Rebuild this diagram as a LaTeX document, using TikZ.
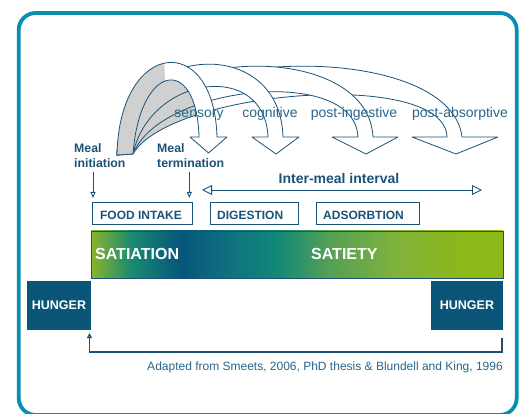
\documentclass[tikz,border=0pt]{standalone}
\usepackage{fontspec}
\setmainfont{Liberation Sans}
\usetikzlibrary{arrows.meta}

\definecolor{framec}{RGB}{8,142,176}
\definecolor{inkdark}{RGB}{27,82,118}
\definecolor{inklight}{RGB}{40,102,138}
\definecolor{hungerblue}{RGB}{10,85,120}
\definecolor{ribbon}{RGB}{208,208,208}
\definecolor{ga}{RGB}{138,181,42}
\definecolor{gb}{RGB}{26,138,112}
\definecolor{gc}{RGB}{6,86,122}
\definecolor{gd}{RGB}{14,108,128}
\definecolor{ge}{RGB}{17,135,122}
\definecolor{gf}{RGB}{85,160,85}
\definecolor{gg}{RGB}{130,180,58}
\definecolor{gh}{RGB}{140,184,26}

\pgfdeclarehorizontalshading{barshade}{100bp}{color(0bp)=(ga); color(25bp)=(ga); color(29.85bp)=(gb); color(35.9bp)=(gc); color(40.6bp)=(gd); color(47.3bp)=(ge); color(54bp)=(gf); color(62.5bp)=(gg); color(69.8bp)=(gh); color(75bp)=(gh); color(100bp)=(gh)}

\newcommand{\ribbonband}[2]{%
  \fill[white] #1;
  \begin{scope}
    \clip #1;
    \fill[ribbon] #2;
  \end{scope}
  \path[ribbonline] #1;
}

\tikzset{
  ribbonline/.style={draw=inkdark, line width=0.8pt, line join=round},
  arclabel/.style={inner sep=0pt, text=inklight, font=\fontsize{14}{16}\selectfont},
  meallabel/.style={inner sep=0pt, align=left, text=inkdark, font=\bfseries\fontsize{12.3}{14.5}\selectfont},
  phasebox/.style={draw=inkdark, line width=1pt, minimum height=22pt, inner sep=0pt},
  phasetext/.style={inner sep=0pt, text=inkdark, font=\bfseries\fontsize{12}{14}\selectfont},
  intertext/.style={inner sep=0pt, text=inkdark, font=\bfseries\fontsize{14}{16}\selectfont},
  dblarrow/.style={draw=inkdark, line width=0.9pt, {Triangle[open,length=10pt,width=10pt]}-{Triangle[open,length=10pt,width=10pt]}},
  smallarr/.style={draw=inkdark, line width=0.9pt, -{Triangle[open,length=6pt,width=5pt]}},
  barstyle/.style={draw=inkdark, line width=0.8pt, shade, shading=barshade, minimum width=412pt, minimum height=47pt, inner sep=0pt},
  bartext/.style={inner sep=0pt, text=white, font=\bfseries\fontsize{16}{18}\selectfont},
  hunger/.style={fill=hungerblue, text=white, font=\bfseries\fontsize{12.5}{14}\selectfont, minimum height=49pt, inner sep=0pt},
  loopline/.style={draw=inkdark, line width=1.3pt, -{Triangle[open,length=5pt,width=5pt]}},
  captiontext/.style={inner sep=0pt, text=inklight, font=\fontsize{12}{14}\selectfont},
}

\begin{document}
\begin{tikzpicture}[x=1pt,y=-1pt]
\useasboundingbox (0,0) rectangle (522,414);
\draw[framec, line width=3.8pt, rounded corners=17pt] (18.7,13) rectangle (516.7,415);

% ribbons (back to front)
\ribbonband{(117,155) .. controls (121,45) and (450,35) .. (462,137) -- (498,137) -- (456,154) -- (412,137) -- (447,137) .. controls (445,68) and (170,90) .. (133,154) -- cycle}{(100,160) -- (100,30) -- (170,30) -- (222,160) -- cycle}
\ribbonband{(117,155) .. controls (120,45) and (368,35) .. (373,137) -- (398,137) -- (366,154) -- (332,137) -- (358,137) .. controls (355,65) and (160,85) .. (133,154) -- cycle}{(100,160) -- (100,30) -- (170,30) -- (222,160) -- cycle}
\ribbonband{(117,155) .. controls (119,45) and (280,30) .. (283,137) -- (299,137) -- (276,154) -- (252,137) -- (268,137) .. controls (265,60) and (150,75) .. (133,154) -- cycle}{(100,160) -- (100,30) -- (170,30) -- (222,160) -- cycle}
\ribbonband{(117,155) .. controls (119,40) and (214,30) .. (217,137) -- (227,137) -- (208.5,153) -- (190,137) -- (199,137) .. controls (197,55) and (140,62) .. (133,154) -- cycle}{(100,160) -- (100,30) -- (163,30) -- (168,160) -- cycle}

\node[arclabel, anchor=base] (sens) at (199,118) {sensory};
\node[arclabel, anchor=base] (cog) at (270,118) {cognitive};
\node[arclabel, anchor=base] (ping) at (354,118) {post-ingestive};
\node[arclabel, anchor=base] (pabs) at (460,118) {post-absorptive};

\node[meallabel, anchor=north west] (mi) at (74,143.5) {Meal\\initiation};
\node[meallabel, anchor=north west] (mt) at (157,143.5) {Meal\\termination};

\node[phasebox, minimum width=100pt] (food) at (142,214) {};
\node[phasebox, minimum width=88pt] (dig) at (254,214) {};
\node[phasebox, minimum width=103pt] (abs) at (367.5,214) {};
\node[phasetext, anchor=base] (foodt) at (141,219) {FOOD INTAKE};
\node[phasetext, anchor=base west] (digt) at (217,219) {DIGESTION};
\node[phasetext, anchor=base west] (abst) at (323,219) {ADSORBTION};

\coordinate (miEnd) at (93,198);
\coordinate (mtEnd) at (189.3,198);
\draw[smallarr, shorten <=5pt] (mi.south -| miEnd) -- (miEnd);
\draw[smallarr, shorten <=5pt] (mt.south -| mtEnd) -- (mtEnd);

\node[intertext, anchor=base] (iml) at (339,184) {Inter-meal interval};
\coordinate (imL) at (202,190);
\coordinate (imR) at (482,190);
\draw[dblarrow] (imL) -- (imR);

\node[barstyle] (bar) at (297,254.5) {};
\node[bartext, anchor=base west] (satiation) at (95,259.5) {SATIATION};
\node[bartext, anchor=base west] (satiety) at (311,259.5) {SATIETY};

\node[hunger, minimum width=64pt] (hl) at (59,305.5) {HUNGER};
\node[hunger, minimum width=72pt] (hr) at (467,305.5) {HUNGER};

\coordinate (loopR) at (502,338);
\coordinate (loopL) at (89.5,333);
\draw[loopline] (loopR) -- ++(0,14) -| (loopL);

\node[captiontext, anchor=base east] (cap) at (503,370) {Adapted from Smeets, 2006, PhD thesis \& Blundell and King, 1996};
\end{tikzpicture}
\end{document}
